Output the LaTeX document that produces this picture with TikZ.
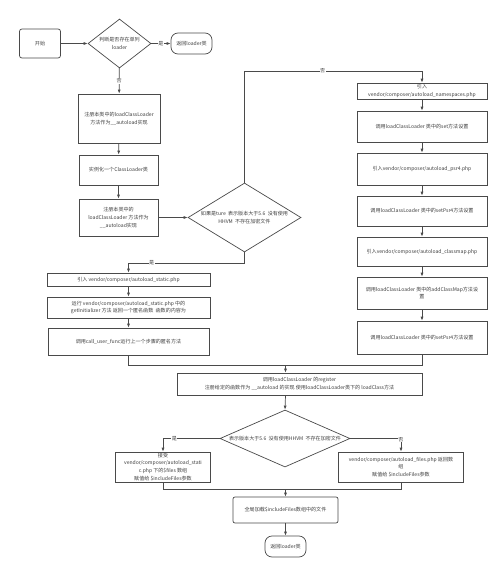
\documentclass[tikz,border=0pt]{standalone}
\usepackage{fontspec}
\setmainfont{Noto Sans CJK SC}
\usepackage{xcolor}
\usetikzlibrary{arrows.meta,shapes.geometric}
\definecolor{linegray}{HTML}{4A4A4A}
\definecolor{textgray}{HTML}{404040}
\tikzset{
    txt/.style={
        text=textgray,
        font=\fontsize{7.2}{11}\selectfont,
        align=center
    },
    stepbox/.style={
        txt, draw=linegray, fill=white, line width=1pt,
        inner sep=1pt
    },
    startbox/.style={stepbox, rounded corners=1.2mm},
    endbox/.style={stepbox, rounded corners=3.5mm},
    decision/.style={
        diamond, draw=linegray, fill=white, line width=1pt,
        inner sep=0pt, text width=0pt
    },
    link/.style={draw=linegray, line width=1pt},
    arrow/.style={link, -{Latex[length=2mm,width=1.5mm]}},
    tag/.style={txt, fill=white, inner sep=0.6pt}
}

\begin{document}
\begin{tikzpicture}[x=0.5mm, y=-0.5mm]

\useasboundingbox (0,0) rectangle (500,569);

% Colonna sinistra
\node[startbox, minimum width=20.5mm, minimum height=14.5mm] (start) at (40,43.5) {开始};
\node[decision, minimum width=31.5mm, minimum height=24.5mm] (single) at (119.5,43.5) {};
\node[txt] (singletext) at (single) {判断是否存在单列\\loader};
\node[endbox, minimum width=20.5mm, minimum height=10.5mm] (ret1) at (191.5,43.5) {返回loader类};

\node[stepbox, minimum width=41mm, minimum height=24.5mm] (reg1) at (119,118.5)
    {注册本类中的loadClassLoader\\方法作为\_\_autoload实现};
\node[stepbox, minimum width=39.5mm, minimum height=15mm] (inst) at (118.5,170)
    {实例化一个ClassLoader类};
\node[stepbox, minimum width=39.5mm, minimum height=18.5mm] (reg2) at (118.5,217.5)
    {注册本类中的\\loadClassLoader 方法作为\\\_\_autoload实现};

% Rombo centrale
\node[decision, minimum width=56.5mm, minimum height=34.5mm] (check1) at (244.5,217.5) {};
\node[txt] (check1text) at (check1) {如果是ture\ \ 表示版本大于5.6\ \ 没有使用\\HHVM\ \ 不存在加密文件};

% Colonna destra
\node[stepbox, minimum width=65mm, minimum height=8mm] (ns) at (422,91)
    {引入\\vendor/composer/autoload\_namespaces.php};
\node[stepbox, minimum width=65mm, minimum height=15.5mm] (setns) at (422,126.5)
    {调用loadClassLoader 类中的set方法设置};
\node[stepbox, minimum width=65mm, minimum height=16mm] (psr) at (422,169)
    {引入vendor/composer/autoload\_psr4.php};
\node[stepbox, minimum width=65mm, minimum height=15mm] (setpsr) at (422,211)
    {调用loadClassLoader 类中的setPsr4方法设置};
\node[stepbox, minimum width=65mm, minimum height=14.5mm] (cmap) at (422,251.5)
    {引入vendor/composer/autoload\_classmap.php};
\node[stepbox, minimum width=65mm, minimum height=16mm] (addcmap) at (422,293)
    {调用loadClassLoader 类中的addClassMap方法设\\置};
\node[stepbox, minimum width=65mm, minimum height=16.5mm] (setpsrb) at (422,337.5)
    {调用loadClassLoader 类中的setPsr4方法设置};

% Ramo statico
\node[stepbox, minimum width=81.5mm, minimum height=6.5mm] (static) at (128.5,279.5)
    {引入 vendor/composer/autoload\_static.php};
\node[stepbox, minimum width=81.5mm, minimum height=10.5mm] (init) at (128.5,307.5)
    {运行 vendor/composer/autoload\_static.php 中的\\getInitializer 方法 返回一个匿名函数\ \ 函数的内容为};
\node[stepbox, minimum width=80.5mm, minimum height=13.5mm] (call) at (128.5,341.5)
    {调用call\_user\_func运行上一个步骤的匿名方法};

% Parte bassa
\node[stepbox, minimum width=122.5mm, minimum height=11mm] (register) at (299.5,384)
    {调用loadClassLoader 的register\\注册给定的函数作为 \_\_autoload 的实现 使用loadClassLoader类下的 loadClass方法};
\node[decision, minimum width=65mm, minimum height=28.5mm] (check2) at (285,438.5) {};
\node[txt] (check2text) at (check2) {表示版本大于5.6\ \ 没有使用HHVM\ \ 不存在加密文件};
\node[stepbox, minimum width=47.5mm, minimum height=15mm] (sfiles) at (163,467)
    {接受\\vendor/composer/autoload\_stati\\c.php 下的\$files 数组\\赋值给 \$includeFiles参数};
\node[stepbox, minimum width=62.5mm, minimum height=15mm] (files) at (401,467)
    {vendor/composer/autoload\_files.php 返回数\\组\\赋值给 \$includeFiles参数};
\node[stepbox, rounded corners=1mm, minimum width=52.5mm, minimum height=13mm] (incl) at (285.5,510)
    {全局加载\$includeFiles数组中的文件};
\node[endbox, minimum width=20.5mm, minimum height=10.5mm] (ret2) at (285.5,546.5) {返回loader类};

% Punti di snodo
\coordinate (topturn) at (244.5,71);
\coordinate (lowturn) at (244.5,263);
\coordinate (join1) at (285.5,365);
\coordinate (join2) at (285.5,489);

% Frecce
\draw[arrow] (start) -- (single);
\draw[arrow] (single) -- node[tag] {是} (ret1);
\draw[arrow] (single) -- node[tag] {否} (reg1);
\draw[arrow] (reg1) -- (inst);
\draw[arrow] (inst) -- (reg2);
\draw[arrow] (reg2) -- (check1);

\draw[arrow] (check1.north) -- (topturn) -| node[tag, pos=0.22] {否} (ns.north);
\draw[arrow] (ns) -- (setns);
\draw[arrow] (setns) -- (psr);
\draw[arrow] (psr) -- (setpsr);
\draw[arrow] (setpsr) -- (cmap);
\draw[arrow] (cmap) -- (addcmap);
\draw[arrow] (addcmap) -- (setpsrb);

\draw[arrow] (check1.south) -- (lowturn) -| node[tag, pos=0.4] {是} (static.north);
\draw[arrow] (static) -- (init);
\draw[arrow] (init) -- (call);

\draw[link] (call.south) |- (join1);
\draw[link] (setpsrb.south) |- (join1);
\draw[arrow] (join1) -- (join1 |- register.north);
\draw[arrow] (join1 |- register.south) -- (check2.north);

\draw[arrow] (check2.west) -| node[tag, pos=0.4] {是} (sfiles.north);
\draw[arrow] (check2.east) -| node[tag, pos=0.55] {否} (files.north);
\draw[link] (sfiles.south) |- (join2);
\draw[link] (files.south) |- (join2);
\draw[arrow] (join2) -- (incl);
\draw[arrow] (incl) -- (ret2);

\end{tikzpicture}
\end{document}
